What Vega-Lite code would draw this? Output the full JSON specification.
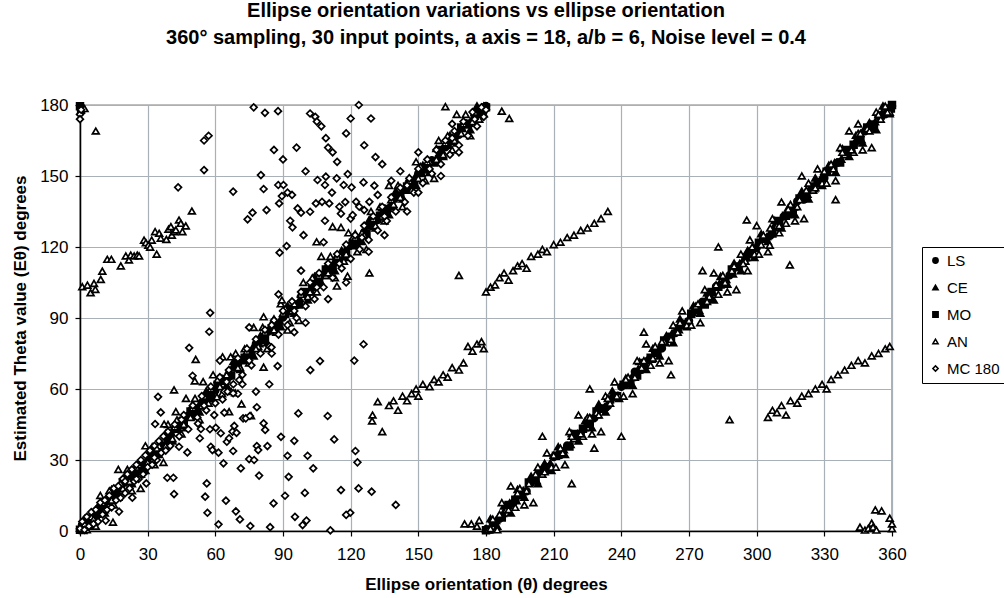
{
"$schema":"https://vega.github.io/schema/vega-lite/v6.json",
"autosize":"none",
"width":812,"height":426,
"padding":{"left":80,"top":105,"right":112,"bottom":67},
"background":"white",
"title":{"text":["Ellipse orientation variations vs ellipse orientation","360° sampling, 30 input points, a axis = 18, a/b = 6, Noise level = 0.4"],"font":"Liberation Sans","fontSize":20,"fontWeight":"bold","color":"black","lineHeight":27,"offset":48,"anchor":"middle","frame":"group"},
"data":{"values":[
{"s":"LS","x":0,"y":0.4},{"s":"LS","x":3,"y":2.2},{"s":"LS","x":6,"y":7.1},{"s":"LS","x":9,"y":8.7},{"s":"LS","x":12,"y":12.7},{"s":"LS","x":15,"y":13.8},{"s":"LS","x":18,"y":18.2},{"s":"LS","x":21,"y":21.9},{"s":"LS","x":24,"y":23.4},{"s":"LS","x":27,"y":28.3},{"s":"LS","x":30,"y":29.1},{"s":"LS","x":33,"y":33.1},{"s":"LS","x":36,"y":36.4},{"s":"LS","x":39,"y":38.2},{"s":"LS","x":42,"y":43.1},{"s":"LS","x":45,"y":44.7},{"s":"LS","x":48,"y":48.7},{"s":"LS","x":51,"y":49.8},{"s":"LS","x":54,"y":54.2},{"s":"LS","x":57,"y":57.9},{"s":"LS","x":60,"y":59.4},{"s":"LS","x":63,"y":64.3},{"s":"LS","x":66,"y":65.1},{"s":"LS","x":69,"y":69.1},{"s":"LS","x":72,"y":72.4},{"s":"LS","x":75,"y":74.2},{"s":"LS","x":78,"y":79.1},{"s":"LS","x":81,"y":80.7},{"s":"LS","x":84,"y":84.7},{"s":"LS","x":87,"y":85.8},{"s":"LS","x":90,"y":90.2},{"s":"LS","x":93,"y":93.9},{"s":"LS","x":96,"y":95.4},{"s":"LS","x":99,"y":100.3},{"s":"LS","x":102,"y":101.1},{"s":"LS","x":105,"y":105.1},{"s":"LS","x":108,"y":108.4},{"s":"LS","x":111,"y":110.2},{"s":"LS","x":114,"y":115.1},{"s":"LS","x":117,"y":116.7},{"s":"LS","x":120,"y":120.7},{"s":"LS","x":123,"y":121.8},{"s":"LS","x":126,"y":126.2},{"s":"LS","x":129,"y":129.9},{"s":"LS","x":132,"y":131.4},{"s":"LS","x":135,"y":136.3},{"s":"LS","x":138,"y":137.1},{"s":"LS","x":141,"y":141.1},{"s":"LS","x":144,"y":144.4},{"s":"LS","x":147,"y":146.2},{"s":"LS","x":150,"y":151.1},{"s":"LS","x":153,"y":152.7},{"s":"LS","x":156,"y":156.7},{"s":"LS","x":159,"y":157.8},{"s":"LS","x":162,"y":162.2},{"s":"LS","x":165,"y":165.9},{"s":"LS","x":168,"y":167.4},{"s":"LS","x":171,"y":172.3},{"s":"LS","x":174,"y":173.1},{"s":"LS","x":177,"y":177.1},{"s":"LS","x":180,"y":179.6},
{"s":"LS","x":180.5,"y":0.5},{"s":"LS","x":183,"y":3.4},{"s":"LS","x":186,"y":5.2},{"s":"LS","x":189,"y":10.1},{"s":"LS","x":192,"y":11.7},{"s":"LS","x":195,"y":15.7},{"s":"LS","x":198,"y":16.8},{"s":"LS","x":201,"y":21.2},{"s":"LS","x":204,"y":24.9},{"s":"LS","x":207,"y":26.4},{"s":"LS","x":210,"y":31.3},{"s":"LS","x":213,"y":32.1},{"s":"LS","x":216,"y":36.1},{"s":"LS","x":219,"y":39.4},{"s":"LS","x":222,"y":41.2},{"s":"LS","x":225,"y":46.1},{"s":"LS","x":228,"y":47.7},{"s":"LS","x":231,"y":51.7},{"s":"LS","x":234,"y":52.8},{"s":"LS","x":237,"y":57.2},{"s":"LS","x":240,"y":60.9},{"s":"LS","x":243,"y":62.4},{"s":"LS","x":246,"y":67.3},{"s":"LS","x":249,"y":68.1},{"s":"LS","x":252,"y":72.1},{"s":"LS","x":255,"y":75.4},{"s":"LS","x":258,"y":77.2},{"s":"LS","x":261,"y":82.1},{"s":"LS","x":264,"y":83.7},{"s":"LS","x":267,"y":87.7},{"s":"LS","x":270,"y":88.8},{"s":"LS","x":273,"y":93.2},{"s":"LS","x":276,"y":96.9},{"s":"LS","x":279,"y":98.4},{"s":"LS","x":282,"y":103.3},{"s":"LS","x":285,"y":104.1},{"s":"LS","x":288,"y":108.1},{"s":"LS","x":291,"y":111.4},{"s":"LS","x":294,"y":113.2},{"s":"LS","x":297,"y":118.1},{"s":"LS","x":300,"y":119.7},{"s":"LS","x":303,"y":123.7},{"s":"LS","x":306,"y":124.8},{"s":"LS","x":309,"y":129.2},{"s":"LS","x":312,"y":132.9},{"s":"LS","x":315,"y":134.4},{"s":"LS","x":318,"y":139.3},{"s":"LS","x":321,"y":140.1},{"s":"LS","x":324,"y":144.1},{"s":"LS","x":327,"y":147.4},{"s":"LS","x":330,"y":149.2},{"s":"LS","x":333,"y":154.1},{"s":"LS","x":336,"y":155.7},{"s":"LS","x":339,"y":159.7},{"s":"LS","x":342,"y":160.8},{"s":"LS","x":345,"y":165.2},{"s":"LS","x":348,"y":168.9},{"s":"LS","x":351,"y":170.4},{"s":"LS","x":354,"y":175.3},{"s":"LS","x":357,"y":176.1},{"s":"LS","x":360,"y":179.6},
{"s":"CE","x":1.5,"y":0.2},{"s":"CE","x":4.5,"y":5.5},{"s":"CE","x":7.5,"y":7.1},{"s":"CE","x":10.5,"y":12.3},{"s":"CE","x":13.5,"y":12.5},{"s":"CE","x":16.5,"y":16.8},{"s":"CE","x":19.5,"y":20.9},{"s":"CE","x":22.5,"y":20.7},{"s":"CE","x":25.5,"y":26.1},{"s":"CE","x":28.5,"y":28.3},{"s":"CE","x":31.5,"y":33.1},{"s":"CE","x":34.5,"y":33.8},{"s":"CE","x":37.5,"y":36},{"s":"CE","x":40.5,"y":41.5},{"s":"CE","x":43.5,"y":43.1},{"s":"CE","x":46.5,"y":48.3},{"s":"CE","x":49.5,"y":48.5},{"s":"CE","x":52.5,"y":52.8},{"s":"CE","x":55.5,"y":56.9},{"s":"CE","x":58.5,"y":56.7},{"s":"CE","x":61.5,"y":62.1},{"s":"CE","x":64.5,"y":64.3},{"s":"CE","x":67.5,"y":69.1},{"s":"CE","x":70.5,"y":69.8},{"s":"CE","x":73.5,"y":72},{"s":"CE","x":76.5,"y":77.5},{"s":"CE","x":79.5,"y":79.1},{"s":"CE","x":82.5,"y":84.3},{"s":"CE","x":85.5,"y":84.5},{"s":"CE","x":88.5,"y":88.8},{"s":"CE","x":91.5,"y":92.9},{"s":"CE","x":94.5,"y":92.7},{"s":"CE","x":97.5,"y":98.1},{"s":"CE","x":100.5,"y":100.3},{"s":"CE","x":103.5,"y":105.1},{"s":"CE","x":106.5,"y":105.8},{"s":"CE","x":109.5,"y":108},{"s":"CE","x":112.5,"y":113.5},{"s":"CE","x":115.5,"y":115.1},{"s":"CE","x":118.5,"y":120.3},{"s":"CE","x":121.5,"y":120.5},{"s":"CE","x":124.5,"y":124.8},{"s":"CE","x":127.5,"y":128.9},{"s":"CE","x":130.5,"y":128.7},{"s":"CE","x":133.5,"y":134.1},{"s":"CE","x":136.5,"y":136.3},{"s":"CE","x":139.5,"y":141.1},{"s":"CE","x":142.5,"y":141.8},{"s":"CE","x":145.5,"y":144},{"s":"CE","x":148.5,"y":149.5},{"s":"CE","x":151.5,"y":151.1},{"s":"CE","x":154.5,"y":156.3},{"s":"CE","x":157.5,"y":156.5},{"s":"CE","x":160.5,"y":160.8},{"s":"CE","x":163.5,"y":164.9},{"s":"CE","x":166.5,"y":164.7},{"s":"CE","x":169.5,"y":170.1},{"s":"CE","x":172.5,"y":172.3},{"s":"CE","x":175.5,"y":177.1},{"s":"CE","x":178.5,"y":177.8},
{"s":"CE","x":180,"y":1},{"s":"CE","x":181.5,"y":0.5},{"s":"CE","x":184.5,"y":4.5},{"s":"CE","x":187.5,"y":7.4},{"s":"CE","x":190.5,"y":11.9},{"s":"CE","x":193.5,"y":12.8},{"s":"CE","x":196.5,"y":17.2},{"s":"CE","x":199.5,"y":20.4},{"s":"CE","x":202.5,"y":21.3},{"s":"CE","x":205.5,"y":25.6},{"s":"CE","x":208.5,"y":28.7},{"s":"CE","x":211.5,"y":32.4},{"s":"CE","x":214.5,"y":34.3},{"s":"CE","x":217.5,"y":36.6},{"s":"CE","x":220.5,"y":41.1},{"s":"CE","x":223.5,"y":43.6},{"s":"CE","x":226.5,"y":47.6},{"s":"CE","x":229.5,"y":49.1},{"s":"CE","x":232.5,"y":52.3},{"s":"CE","x":235.5,"y":56.4},{"s":"CE","x":238.5,"y":57.3},{"s":"CE","x":241.5,"y":61.7},{"s":"CE","x":244.5,"y":64.9},{"s":"CE","x":247.5,"y":68.5},{"s":"CE","x":250.5,"y":70.2},{"s":"CE","x":253.5,"y":72.6},{"s":"CE","x":256.5,"y":77.1},{"s":"CE","x":259.5,"y":79.6},{"s":"CE","x":262.5,"y":83.6},{"s":"CE","x":265.5,"y":85.1},{"s":"CE","x":268.5,"y":88.3},{"s":"CE","x":271.5,"y":92.4},{"s":"CE","x":274.5,"y":93.3},{"s":"CE","x":277.5,"y":97.7},{"s":"CE","x":280.5,"y":100.9},{"s":"CE","x":283.5,"y":104.6},{"s":"CE","x":286.5,"y":106.3},{"s":"CE","x":289.5,"y":108.6},{"s":"CE","x":292.5,"y":113.1},{"s":"CE","x":295.5,"y":115.6},{"s":"CE","x":298.5,"y":119.6},{"s":"CE","x":301.5,"y":121.1},{"s":"CE","x":304.5,"y":124.3},{"s":"CE","x":307.5,"y":128.4},{"s":"CE","x":310.5,"y":129.3},{"s":"CE","x":313.5,"y":133.7},{"s":"CE","x":316.5,"y":136.9},{"s":"CE","x":319.5,"y":140.6},{"s":"CE","x":322.5,"y":142.3},{"s":"CE","x":325.5,"y":144.6},{"s":"CE","x":328.5,"y":149.1},{"s":"CE","x":331.5,"y":151.6},{"s":"CE","x":334.5,"y":155.6},{"s":"CE","x":337.5,"y":157.1},{"s":"CE","x":340.5,"y":160.3},{"s":"CE","x":343.5,"y":164.4},{"s":"CE","x":346.5,"y":165.3},{"s":"CE","x":349.5,"y":169.7},{"s":"CE","x":352.5,"y":172.9},{"s":"CE","x":355.5,"y":176.6},{"s":"CE","x":358.5,"y":178.3},
{"s":"CE","x":2,"y":5.2},{"s":"CE","x":5,"y":2},{"s":"CE","x":8,"y":10.6},{"s":"CE","x":11,"y":7.6},{"s":"CE","x":14,"y":17.6},{"s":"CE","x":17,"y":14.3},{"s":"CE","x":20,"y":23.2},{"s":"CE","x":23,"y":20},{"s":"CE","x":26,"y":28.6},{"s":"CE","x":29,"y":25.6},{"s":"CE","x":32,"y":35.6},{"s":"CE","x":35,"y":32.3},{"s":"CE","x":38,"y":41.2},{"s":"CE","x":41,"y":38},{"s":"CE","x":44,"y":46.6},{"s":"CE","x":47,"y":43.6},{"s":"CE","x":50,"y":53.6},{"s":"CE","x":53,"y":50.3},{"s":"CE","x":56,"y":59.2},{"s":"CE","x":59,"y":56},{"s":"CE","x":62,"y":64.6},{"s":"CE","x":65,"y":61.6},{"s":"CE","x":68,"y":71.6},{"s":"CE","x":71,"y":68.3},{"s":"CE","x":74,"y":77.2},{"s":"CE","x":77,"y":74},{"s":"CE","x":80,"y":82.6},{"s":"CE","x":83,"y":79.6},{"s":"CE","x":86,"y":89.6},{"s":"CE","x":89,"y":86.3},{"s":"CE","x":92,"y":95.2},{"s":"CE","x":95,"y":92},{"s":"CE","x":98,"y":100.6},{"s":"CE","x":101,"y":97.6},{"s":"CE","x":104,"y":107.6},{"s":"CE","x":107,"y":104.3},{"s":"CE","x":110,"y":113.2},{"s":"CE","x":113,"y":110},{"s":"CE","x":116,"y":118.6},{"s":"CE","x":119,"y":115.6},{"s":"CE","x":122,"y":125.6},{"s":"CE","x":125,"y":122.3},{"s":"CE","x":128,"y":131.2},{"s":"CE","x":131,"y":128},{"s":"CE","x":134,"y":136.6},{"s":"CE","x":137,"y":133.6},{"s":"CE","x":140,"y":143.6},{"s":"CE","x":143,"y":140.3},{"s":"CE","x":146,"y":149.2},{"s":"CE","x":149,"y":146},{"s":"CE","x":152,"y":154.6},{"s":"CE","x":155,"y":151.6},{"s":"CE","x":158,"y":161.6},{"s":"CE","x":161,"y":158.3},{"s":"CE","x":164,"y":167.2},{"s":"CE","x":167,"y":164},{"s":"CE","x":170,"y":172.6},{"s":"CE","x":173,"y":169.6},{"s":"CE","x":176,"y":179.6},{"s":"CE","x":179,"y":176.3},
{"s":"CE","x":182,"y":5.2},{"s":"CE","x":185,"y":2},{"s":"CE","x":188,"y":10.6},{"s":"CE","x":191,"y":7.6},{"s":"CE","x":194,"y":17.6},{"s":"CE","x":197,"y":14.3},{"s":"CE","x":200,"y":23.2},{"s":"CE","x":203,"y":20},{"s":"CE","x":206,"y":28.6},{"s":"CE","x":209,"y":25.6},{"s":"CE","x":212,"y":35.6},{"s":"CE","x":215,"y":32.3},{"s":"CE","x":218,"y":41.2},{"s":"CE","x":221,"y":38},{"s":"CE","x":224,"y":46.6},{"s":"CE","x":227,"y":43.6},{"s":"CE","x":230,"y":53.6},{"s":"CE","x":233,"y":50.3},{"s":"CE","x":236,"y":59.2},{"s":"CE","x":239,"y":56},{"s":"CE","x":242,"y":64.6},{"s":"CE","x":245,"y":61.6},{"s":"CE","x":248,"y":71.6},{"s":"CE","x":251,"y":68.3},{"s":"CE","x":254,"y":77.2},{"s":"CE","x":257,"y":74},{"s":"CE","x":260,"y":82.6},{"s":"CE","x":263,"y":79.6},{"s":"CE","x":266,"y":89.6},{"s":"CE","x":269,"y":86.3},{"s":"CE","x":272,"y":95.2},{"s":"CE","x":275,"y":92},{"s":"CE","x":278,"y":100.6},{"s":"CE","x":281,"y":97.6},{"s":"CE","x":284,"y":107.6},{"s":"CE","x":287,"y":104.3},{"s":"CE","x":290,"y":113.2},{"s":"CE","x":293,"y":110},{"s":"CE","x":296,"y":118.6},{"s":"CE","x":299,"y":115.6},{"s":"CE","x":302,"y":125.6},{"s":"CE","x":305,"y":122.3},{"s":"CE","x":308,"y":131.2},{"s":"CE","x":311,"y":128},{"s":"CE","x":314,"y":136.6},{"s":"CE","x":317,"y":133.6},{"s":"CE","x":320,"y":143.6},{"s":"CE","x":323,"y":140.3},{"s":"CE","x":326,"y":149.2},{"s":"CE","x":329,"y":146},{"s":"CE","x":332,"y":154.6},{"s":"CE","x":335,"y":151.6},{"s":"CE","x":338,"y":161.6},{"s":"CE","x":341,"y":158.3},{"s":"CE","x":344,"y":167.2},{"s":"CE","x":347,"y":164},{"s":"CE","x":350,"y":172.6},{"s":"CE","x":353,"y":169.6},{"s":"CE","x":356,"y":179.6},{"s":"CE","x":359,"y":176.3},
{"s":"MO","x":0,"y":179.5},{"s":"MO","x":0.5,"y":178},{"s":"MO","x":0,"y":0.5},{"s":"MO","x":1,"y":1.8},{"s":"MO","x":4,"y":3.5},{"s":"MO","x":7,"y":5.7},{"s":"MO","x":10,"y":11},{"s":"MO","x":13,"y":13.2},{"s":"MO","x":16,"y":15.2},{"s":"MO","x":19,"y":20.5},{"s":"MO","x":22,"y":21.8},{"s":"MO","x":25,"y":25.6},{"s":"MO","x":28,"y":26.9},{"s":"MO","x":31,"y":31.8},{"s":"MO","x":34,"y":33.5},{"s":"MO","x":37,"y":35.7},{"s":"MO","x":40,"y":41},{"s":"MO","x":43,"y":43.2},{"s":"MO","x":46,"y":45.2},{"s":"MO","x":49,"y":50.5},{"s":"MO","x":52,"y":51.8},{"s":"MO","x":55,"y":55.6},{"s":"MO","x":58,"y":56.9},{"s":"MO","x":61,"y":61.8},{"s":"MO","x":64,"y":63.5},{"s":"MO","x":67,"y":65.7},{"s":"MO","x":70,"y":71},{"s":"MO","x":73,"y":73.2},{"s":"MO","x":76,"y":75.2},{"s":"MO","x":79,"y":80.5},{"s":"MO","x":82,"y":81.8},{"s":"MO","x":85,"y":85.6},{"s":"MO","x":88,"y":86.9},{"s":"MO","x":91,"y":91.8},{"s":"MO","x":94,"y":93.5},{"s":"MO","x":97,"y":95.7},{"s":"MO","x":100,"y":101},{"s":"MO","x":103,"y":103.2},{"s":"MO","x":106,"y":105.2},{"s":"MO","x":109,"y":110.5},{"s":"MO","x":112,"y":111.8},{"s":"MO","x":115,"y":115.6},{"s":"MO","x":118,"y":116.9},{"s":"MO","x":121,"y":121.8},{"s":"MO","x":124,"y":123.5},{"s":"MO","x":127,"y":125.7},{"s":"MO","x":130,"y":131},{"s":"MO","x":133,"y":133.2},{"s":"MO","x":136,"y":135.2},{"s":"MO","x":139,"y":140.5},{"s":"MO","x":142,"y":141.8},{"s":"MO","x":145,"y":145.6},{"s":"MO","x":148,"y":146.9},{"s":"MO","x":151,"y":151.8},{"s":"MO","x":154,"y":153.5},{"s":"MO","x":157,"y":155.7},{"s":"MO","x":160,"y":161},{"s":"MO","x":163,"y":163.2},{"s":"MO","x":166,"y":165.2},{"s":"MO","x":169,"y":170.5},{"s":"MO","x":172,"y":171.8},{"s":"MO","x":175,"y":175.6},{"s":"MO","x":178,"y":176.9},{"s":"MO","x":180,"y":179},{"s":"MO","x":180,"y":0.3},
{"s":"MO","x":181,"y":0.6},{"s":"MO","x":184,"y":3.5},{"s":"MO","x":187,"y":5.7},{"s":"MO","x":190,"y":11},{"s":"MO","x":193,"y":13.2},{"s":"MO","x":196,"y":15.2},{"s":"MO","x":199,"y":20.5},{"s":"MO","x":202,"y":21.8},{"s":"MO","x":205,"y":25.6},{"s":"MO","x":208,"y":26.9},{"s":"MO","x":211,"y":31.8},{"s":"MO","x":214,"y":33.5},{"s":"MO","x":217,"y":35.7},{"s":"MO","x":220,"y":41},{"s":"MO","x":223,"y":43.2},{"s":"MO","x":226,"y":45.2},{"s":"MO","x":229,"y":50.5},{"s":"MO","x":232,"y":51.8},{"s":"MO","x":235,"y":55.6},{"s":"MO","x":238,"y":56.9},{"s":"MO","x":241,"y":61.8},{"s":"MO","x":244,"y":63.5},{"s":"MO","x":247,"y":65.7},{"s":"MO","x":250,"y":71},{"s":"MO","x":253,"y":73.2},{"s":"MO","x":256,"y":75.2},{"s":"MO","x":259,"y":80.5},{"s":"MO","x":262,"y":81.8},{"s":"MO","x":265,"y":85.6},{"s":"MO","x":268,"y":86.9},{"s":"MO","x":271,"y":91.8},{"s":"MO","x":274,"y":93.5},{"s":"MO","x":277,"y":95.7},{"s":"MO","x":280,"y":101},{"s":"MO","x":283,"y":103.2},{"s":"MO","x":286,"y":105.2},{"s":"MO","x":289,"y":110.5},{"s":"MO","x":292,"y":111.8},{"s":"MO","x":295,"y":115.6},{"s":"MO","x":298,"y":116.9},{"s":"MO","x":301,"y":121.8},{"s":"MO","x":304,"y":123.5},{"s":"MO","x":307,"y":125.7},{"s":"MO","x":310,"y":131},{"s":"MO","x":313,"y":133.2},{"s":"MO","x":316,"y":135.2},{"s":"MO","x":319,"y":140.5},{"s":"MO","x":322,"y":141.8},{"s":"MO","x":325,"y":145.6},{"s":"MO","x":328,"y":146.9},{"s":"MO","x":331,"y":151.8},{"s":"MO","x":334,"y":153.5},{"s":"MO","x":337,"y":155.7},{"s":"MO","x":340,"y":161},{"s":"MO","x":343,"y":163.2},{"s":"MO","x":346,"y":165.2},{"s":"MO","x":349,"y":170.5},{"s":"MO","x":352,"y":171.8},{"s":"MO","x":355,"y":175.6},{"s":"MO","x":358,"y":176.9},{"s":"MO","x":359.5,"y":178.5},{"s":"MO","x":360,"y":180},
{"s":"AN","x":1,"y":4},{"s":"AN","x":3,"y":0.5},{"s":"AN","x":5,"y":6},{"s":"AN","x":7,"y":2},{"s":"AN","x":9,"y":15},{"s":"AN","x":11,"y":9},{"s":"AN","x":13,"y":17},{"s":"AN","x":15,"y":11},{"s":"AN","x":17,"y":26},{"s":"AN","x":19,"y":18},{"s":"AN","x":21,"y":26},{"s":"AN","x":23,"y":17},{"s":"AN","x":25,"y":27},{"s":"AN","x":27,"y":24},{"s":"AN","x":29,"y":36},{"s":"AN","x":31,"y":34},{"s":"AN","x":33,"y":28},{"s":"AN","x":35,"y":36},{"s":"AN","x":37,"y":29},{"s":"AN","x":39,"y":45},{"s":"AN","x":41,"y":39},{"s":"AN","x":43,"y":47},{"s":"AN","x":45,"y":41},{"s":"AN","x":47,"y":56},{"s":"AN","x":49,"y":48},{"s":"AN","x":51,"y":56},{"s":"AN","x":53,"y":47},{"s":"AN","x":55,"y":57},{"s":"AN","x":57,"y":54},{"s":"AN","x":59,"y":66},{"s":"AN","x":61,"y":64},{"s":"AN","x":63,"y":58},{"s":"AN","x":65,"y":66},{"s":"AN","x":67,"y":59},{"s":"AN","x":69,"y":75},{"s":"AN","x":71,"y":69},{"s":"AN","x":73,"y":77},{"s":"AN","x":75,"y":71},{"s":"AN","x":77,"y":86},{"s":"AN","x":79,"y":78},{"s":"AN","x":81,"y":86},{"s":"AN","x":83,"y":77},{"s":"AN","x":85,"y":87},{"s":"AN","x":87,"y":84},{"s":"AN","x":89,"y":96},{"s":"AN","x":91,"y":94},{"s":"AN","x":93,"y":88},{"s":"AN","x":95,"y":96},{"s":"AN","x":97,"y":89},{"s":"AN","x":99,"y":105},{"s":"AN","x":101,"y":99},{"s":"AN","x":103,"y":107},{"s":"AN","x":105,"y":101},{"s":"AN","x":107,"y":116},{"s":"AN","x":109,"y":108},{"s":"AN","x":111,"y":116},{"s":"AN","x":113,"y":107},{"s":"AN","x":115,"y":117},{"s":"AN","x":117,"y":114},{"s":"AN","x":119,"y":126},{"s":"AN","x":121,"y":124},{"s":"AN","x":123,"y":118},{"s":"AN","x":125,"y":126},{"s":"AN","x":127,"y":119},{"s":"AN","x":129,"y":135},{"s":"AN","x":131,"y":129},{"s":"AN","x":133,"y":137},{"s":"AN","x":135,"y":131},{"s":"AN","x":137,"y":146},{"s":"AN","x":139,"y":138},{"s":"AN","x":141,"y":146},{"s":"AN","x":143,"y":137},{"s":"AN","x":145,"y":147},{"s":"AN","x":147,"y":144},{"s":"AN","x":149,"y":156},{"s":"AN","x":151,"y":154},{"s":"AN","x":153,"y":148},{"s":"AN","x":155,"y":156},{"s":"AN","x":157,"y":149},{"s":"AN","x":159,"y":165},{"s":"AN","x":161,"y":159},{"s":"AN","x":163,"y":167},{"s":"AN","x":165,"y":161},{"s":"AN","x":167,"y":176},{"s":"AN","x":169,"y":168},{"s":"AN","x":171,"y":176},{"s":"AN","x":173,"y":167},{"s":"AN","x":175,"y":177},{"s":"AN","x":177,"y":174},{"s":"AN","x":179,"y":179.5},
{"s":"AN","x":2,"y":3},{"s":"AN","x":6,"y":5},{"s":"AN","x":10,"y":12},{"s":"AN","x":14,"y":13},{"s":"AN","x":18,"y":20},{"s":"AN","x":22,"y":21},{"s":"AN","x":26,"y":28},{"s":"AN","x":30,"y":29},{"s":"AN","x":34,"y":35},{"s":"AN","x":38,"y":36},{"s":"AN","x":42,"y":44},{"s":"AN","x":46,"y":45},{"s":"AN","x":50,"y":52},{"s":"AN","x":54,"y":53},{"s":"AN","x":58,"y":60},{"s":"AN","x":62,"y":61},{"s":"AN","x":66,"y":68},{"s":"AN","x":70,"y":69},{"s":"AN","x":74,"y":76},{"s":"AN","x":78,"y":77},{"s":"AN","x":82,"y":84},{"s":"AN","x":86,"y":85},{"s":"AN","x":90,"y":92},{"s":"AN","x":94,"y":93},{"s":"AN","x":98,"y":100},{"s":"AN","x":102,"y":101},{"s":"AN","x":106,"y":108},{"s":"AN","x":110,"y":109},{"s":"AN","x":114,"y":116},{"s":"AN","x":118,"y":117},{"s":"AN","x":122,"y":124},{"s":"AN","x":126,"y":125},{"s":"AN","x":130,"y":132},{"s":"AN","x":134,"y":133},{"s":"AN","x":138,"y":140},{"s":"AN","x":142,"y":141},{"s":"AN","x":146,"y":148},{"s":"AN","x":150,"y":149},{"s":"AN","x":154,"y":156},{"s":"AN","x":158,"y":157},{"s":"AN","x":162,"y":164},{"s":"AN","x":166,"y":165},{"s":"AN","x":170,"y":172},{"s":"AN","x":174,"y":173},{"s":"AN","x":178,"y":179},
{"s":"AN","x":181,"y":0.5},{"s":"AN","x":183,"y":5},{"s":"AN","x":185,"y":0.5},{"s":"AN","x":187,"y":12},{"s":"AN","x":189,"y":9},{"s":"AN","x":191,"y":19},{"s":"AN","x":193,"y":10},{"s":"AN","x":195,"y":18},{"s":"AN","x":197,"y":11},{"s":"AN","x":199,"y":20},{"s":"AN","x":201,"y":12},{"s":"AN","x":203,"y":27},{"s":"AN","x":205,"y":24},{"s":"AN","x":207,"y":33},{"s":"AN","x":209,"y":27},{"s":"AN","x":211,"y":27},{"s":"AN","x":213,"y":35},{"s":"AN","x":215,"y":28},{"s":"AN","x":217,"y":42},{"s":"AN","x":219,"y":39},{"s":"AN","x":221,"y":49},{"s":"AN","x":223,"y":40},{"s":"AN","x":225,"y":48},{"s":"AN","x":227,"y":41},{"s":"AN","x":229,"y":50},{"s":"AN","x":231,"y":42},{"s":"AN","x":233,"y":57},{"s":"AN","x":235,"y":54},{"s":"AN","x":237,"y":63},{"s":"AN","x":239,"y":57},{"s":"AN","x":241,"y":57},{"s":"AN","x":243,"y":65},{"s":"AN","x":245,"y":58},{"s":"AN","x":247,"y":72},{"s":"AN","x":249,"y":69},{"s":"AN","x":251,"y":79},{"s":"AN","x":253,"y":70},{"s":"AN","x":255,"y":78},{"s":"AN","x":257,"y":71},{"s":"AN","x":259,"y":80},{"s":"AN","x":261,"y":72},{"s":"AN","x":263,"y":87},{"s":"AN","x":265,"y":84},{"s":"AN","x":267,"y":93},{"s":"AN","x":269,"y":87},{"s":"AN","x":271,"y":87},{"s":"AN","x":273,"y":95},{"s":"AN","x":275,"y":88},{"s":"AN","x":277,"y":102},{"s":"AN","x":279,"y":99},{"s":"AN","x":281,"y":109},{"s":"AN","x":283,"y":100},{"s":"AN","x":285,"y":108},{"s":"AN","x":287,"y":101},{"s":"AN","x":289,"y":110},{"s":"AN","x":291,"y":102},{"s":"AN","x":293,"y":117},{"s":"AN","x":295,"y":114},{"s":"AN","x":297,"y":123},{"s":"AN","x":299,"y":117},{"s":"AN","x":301,"y":117},{"s":"AN","x":303,"y":125},{"s":"AN","x":305,"y":118},{"s":"AN","x":307,"y":132},{"s":"AN","x":309,"y":129},{"s":"AN","x":311,"y":139},{"s":"AN","x":313,"y":130},{"s":"AN","x":315,"y":138},{"s":"AN","x":317,"y":131},{"s":"AN","x":319,"y":140},{"s":"AN","x":321,"y":132},{"s":"AN","x":323,"y":147},{"s":"AN","x":325,"y":144},{"s":"AN","x":327,"y":153},{"s":"AN","x":329,"y":147},{"s":"AN","x":331,"y":147},{"s":"AN","x":333,"y":155},{"s":"AN","x":335,"y":148},{"s":"AN","x":337,"y":162},{"s":"AN","x":339,"y":159},{"s":"AN","x":341,"y":169},{"s":"AN","x":343,"y":160},{"s":"AN","x":345,"y":168},{"s":"AN","x":347,"y":161},{"s":"AN","x":349,"y":170},{"s":"AN","x":351,"y":162},{"s":"AN","x":353,"y":177},{"s":"AN","x":355,"y":174},{"s":"AN","x":357,"y":179.5},{"s":"AN","x":359,"y":177},
{"s":"AN","x":182,"y":1},{"s":"AN","x":186,"y":7},{"s":"AN","x":190,"y":9},{"s":"AN","x":194,"y":16},{"s":"AN","x":198,"y":17},{"s":"AN","x":202,"y":24},{"s":"AN","x":206,"y":25},{"s":"AN","x":210,"y":32},{"s":"AN","x":214,"y":33},{"s":"AN","x":218,"y":40},{"s":"AN","x":222,"y":41},{"s":"AN","x":226,"y":48},{"s":"AN","x":230,"y":49},{"s":"AN","x":234,"y":56},{"s":"AN","x":238,"y":57},{"s":"AN","x":242,"y":64},{"s":"AN","x":246,"y":65},{"s":"AN","x":250,"y":72},{"s":"AN","x":254,"y":73},{"s":"AN","x":258,"y":80},{"s":"AN","x":262,"y":81},{"s":"AN","x":266,"y":88},{"s":"AN","x":270,"y":89},{"s":"AN","x":274,"y":96},{"s":"AN","x":278,"y":97},{"s":"AN","x":282,"y":104},{"s":"AN","x":286,"y":105},{"s":"AN","x":290,"y":112},{"s":"AN","x":294,"y":113},{"s":"AN","x":298,"y":120},{"s":"AN","x":302,"y":121},{"s":"AN","x":306,"y":128},{"s":"AN","x":310,"y":129},{"s":"AN","x":314,"y":136},{"s":"AN","x":318,"y":137},{"s":"AN","x":322,"y":144},{"s":"AN","x":326,"y":145},{"s":"AN","x":330,"y":152},{"s":"AN","x":334,"y":153},{"s":"AN","x":338,"y":160},{"s":"AN","x":342,"y":161},{"s":"AN","x":346,"y":168},{"s":"AN","x":350,"y":169},{"s":"AN","x":354,"y":176},{"s":"AN","x":358,"y":177},
{"s":"AN","x":41.7,"y":59.6},{"s":"AN","x":42.5,"y":50.4},{"s":"AN","x":26.9,"y":18},{"s":"AN","x":14.6,"y":3.7},{"s":"AN","x":51.3,"y":72.5},{"s":"AN","x":50.9,"y":63.4},{"s":"AN","x":54.6,"y":63.1},{"s":"AN","x":66.1,"y":50.4},{"s":"AN","x":71.6,"y":53.7},{"s":"AN","x":68.8,"y":58.4},{"s":"AN","x":81.4,"y":69.2},{"s":"AN","x":63.2,"y":73.6},{"s":"AN","x":66.8,"y":73.6},{"s":"AN","x":75.8,"y":48.7},{"s":"AN","x":37.3,"y":45.2},{"s":"AN","x":60.7,"y":56.7},{"s":"AN","x":128.3,"y":109},{"s":"AN","x":113.9,"y":103.5},{"s":"AN","x":104.9,"y":122.2},{"s":"AN","x":112,"y":128.6},{"s":"AN","x":115.7,"y":128.3},{"s":"AN","x":92,"y":84.9},{"s":"AN","x":81.4,"y":90.5},{"s":"AN","x":89.5,"y":97.6},{"s":"AN","x":118.6,"y":107.7},{"s":"AN","x":7,"y":169},{"s":"AN","x":2,"y":178.5},{"s":"AN","x":162,"y":179.3},{"s":"AN","x":187,"y":177.4},{"s":"AN","x":190.3,"y":174.3},{"s":"AN","x":168,"y":108},{"s":"AN","x":170.5,"y":3},{"s":"AN","x":173.5,"y":3},{"s":"AN","x":176,"y":2},{"s":"AN","x":177,"y":4.5},{"s":"AN","x":288,"y":47},{"s":"AN","x":295.6,"y":131.4},{"s":"AN","x":300,"y":129},{"s":"AN","x":305.8,"y":120.8},{"s":"AN","x":314.7,"y":112.4},{"s":"AN","x":310,"y":126},{"s":"AN","x":296,"y":110},{"s":"AN","x":226,"y":60},{"s":"AN","x":240,"y":40},{"s":"AN","x":262,"y":66},{"s":"AN","x":276,"y":110},{"s":"AN","x":283,"y":120},{"s":"AN","x":320,"y":150},{"s":"AN","x":335,"y":140},{"s":"AN","x":345,"y":172},{"s":"AN","x":228,"y":35},{"s":"AN","x":250,"y":84},{"s":"AN","x":205,"y":40},{"s":"AN","x":218,"y":20},
{"s":"AN","x":1,"y":103.2},{"s":"AN","x":3.3,"y":103.9},{"s":"AN","x":4.7,"y":100.7},{"s":"AN","x":6.2,"y":104.6},{"s":"AN","x":6.8,"y":102.1},{"s":"AN","x":9.2,"y":106.3},{"s":"AN","x":9.9,"y":109.8},{"s":"AN","x":12.1,"y":114.8},{"s":"AN","x":13.9,"y":114.8},{"s":"AN","x":18.1,"y":112},{"s":"AN","x":20.3,"y":116.2},{"s":"AN","x":21.7,"y":114.5},{"s":"AN","x":22.5,"y":116.6},{"s":"AN","x":24,"y":116.2},{"s":"AN","x":25.4,"y":116.6},{"s":"AN","x":26.2,"y":116.2},{"s":"AN","x":28.4,"y":122.9},{"s":"AN","x":29.2,"y":121.8},{"s":"AN","x":30.3,"y":120.8},{"s":"AN","x":31.1,"y":119.9},{"s":"AN","x":31.8,"y":122.9},{"s":"AN","x":33.3,"y":126.5},{"s":"AN","x":34,"y":117},{"s":"AN","x":35.1,"y":125.8},{"s":"AN","x":35.8,"y":123.7},{"s":"AN","x":38.3,"y":123.2},{"s":"AN","x":39.2,"y":127.5},{"s":"AN","x":40.3,"y":128.6},{"s":"AN","x":40.7,"y":125},{"s":"AN","x":41.7,"y":126.5},{"s":"AN","x":42.5,"y":127.2},{"s":"AN","x":43.9,"y":131.4},{"s":"AN","x":44.7,"y":130},{"s":"AN","x":45.4,"y":126.5},{"s":"AN","x":46.9,"y":128.9},{"s":"AN","x":49.6,"y":135.2},
{"s":"AN","x":129.5,"y":46.5},{"s":"AN","x":129.7,"y":49},{"s":"AN","x":132,"y":54.6},{"s":"AN","x":134,"y":42},{"s":"AN","x":137,"y":53},{"s":"AN","x":139,"y":55},{"s":"AN","x":141,"y":51},{"s":"AN","x":143,"y":57},{"s":"AN","x":145,"y":55},{"s":"AN","x":147,"y":58},{"s":"AN","x":149,"y":60},{"s":"AN","x":150,"y":57},{"s":"AN","x":152,"y":62},{"s":"AN","x":155,"y":61},{"s":"AN","x":157,"y":64},{"s":"AN","x":159,"y":63},{"s":"AN","x":161,"y":66},{"s":"AN","x":163,"y":65},{"s":"AN","x":165,"y":69},{"s":"AN","x":168,"y":68},{"s":"AN","x":170,"y":71},{"s":"AN","x":172,"y":78},{"s":"AN","x":174,"y":76},{"s":"AN","x":176,"y":79},{"s":"AN","x":178,"y":80},{"s":"AN","x":179,"y":77},
{"s":"AN","x":180,"y":101},{"s":"AN","x":182,"y":103},{"s":"AN","x":184,"y":104},{"s":"AN","x":186,"y":107},{"s":"AN","x":188,"y":109},{"s":"AN","x":190,"y":106},{"s":"AN","x":192,"y":110},{"s":"AN","x":194,"y":112},{"s":"AN","x":196,"y":113},{"s":"AN","x":198,"y":111},{"s":"AN","x":200,"y":116},{"s":"AN","x":203,"y":117},{"s":"AN","x":205,"y":119},{"s":"AN","x":207,"y":118},{"s":"AN","x":210,"y":121},{"s":"AN","x":213,"y":122},{"s":"AN","x":216,"y":124},{"s":"AN","x":219,"y":125},{"s":"AN","x":222,"y":127},{"s":"AN","x":225,"y":128},{"s":"AN","x":228,"y":130},{"s":"AN","x":231,"y":132},{"s":"AN","x":234,"y":135},
{"s":"AN","x":305,"y":48},{"s":"AN","x":307,"y":51},{"s":"AN","x":309,"y":50},{"s":"AN","x":311,"y":53},{"s":"AN","x":313,"y":49},{"s":"AN","x":315,"y":55},{"s":"AN","x":318,"y":54},{"s":"AN","x":320,"y":57},{"s":"AN","x":323,"y":58},{"s":"AN","x":326,"y":60},{"s":"AN","x":329,"y":62},{"s":"AN","x":331,"y":60},{"s":"AN","x":333,"y":64},{"s":"AN","x":336,"y":66},{"s":"AN","x":339,"y":68},{"s":"AN","x":342,"y":70},{"s":"AN","x":345,"y":72},{"s":"AN","x":348,"y":71},{"s":"AN","x":351,"y":74},{"s":"AN","x":354,"y":75},{"s":"AN","x":357,"y":77},{"s":"AN","x":359,"y":78},
{"s":"AN","x":345.8,"y":1.6},{"s":"AN","x":348,"y":0.4},{"s":"AN","x":349.5,"y":1.1},{"s":"AN","x":351,"y":3.3},{"s":"AN","x":351.6,"y":1.6},{"s":"AN","x":353.1,"y":0.4},{"s":"AN","x":352.6,"y":8.9},{"s":"AN","x":355.4,"y":8.5},{"s":"AN","x":359,"y":5.4},{"s":"AN","x":360,"y":1},{"s":"AN","x":360,"y":3},
{"s":"MC 180","x":0,"y":1},{"s":"MC 180","x":1,"y":4},{"s":"MC 180","x":2,"y":0.5},{"s":"MC 180","x":3,"y":6},{"s":"MC 180","x":4,"y":2},{"s":"MC 180","x":5,"y":8},{"s":"MC 180","x":6,"y":3},{"s":"MC 180","x":7,"y":9},{"s":"MC 180","x":8,"y":4},{"s":"MC 180","x":9,"y":12},{"s":"MC 180","x":10,"y":7},{"s":"MC 180","x":11,"y":13},{"s":"MC 180","x":12,"y":9},{"s":"MC 180","x":13,"y":15},{"s":"MC 180","x":14,"y":10},{"s":"MC 180","x":15,"y":18},{"s":"MC 180","x":16,"y":13},{"s":"MC 180","x":17,"y":19},{"s":"MC 180","x":18,"y":14},{"s":"MC 180","x":19,"y":22},{"s":"MC 180","x":20,"y":16},{"s":"MC 180","x":21,"y":24},{"s":"MC 180","x":22,"y":18},{"s":"MC 180","x":23,"y":26},{"s":"MC 180","x":24,"y":21},{"s":"MC 180","x":25,"y":28},{"s":"MC 180","x":26,"y":22},{"s":"MC 180","x":27,"y":30},{"s":"MC 180","x":28,"y":24},{"s":"MC 180","x":29,"y":32},{"s":"MC 180","x":30,"y":27},{"s":"MC 180","x":31,"y":34},{"s":"MC 180","x":32,"y":28},{"s":"MC 180","x":33,"y":36},{"s":"MC 180","x":34,"y":30},{"s":"MC 180","x":35,"y":38},{"s":"MC 180","x":36,"y":33},{"s":"MC 180","x":37,"y":40},{"s":"MC 180","x":38,"y":34},{"s":"MC 180","x":39,"y":42},{"s":"MC 180","x":40,"y":36},{"s":"MC 180","x":42,"y":45},{"s":"MC 180","x":44,"y":40},{"s":"MC 180","x":46,"y":49},{"s":"MC 180","x":48,"y":43},{"s":"MC 180","x":50,"y":53},{"s":"MC 180","x":52,"y":48},{"s":"MC 180","x":54,"y":57},{"s":"MC 180","x":56,"y":51},{"s":"MC 180","x":58,"y":61},{"s":"MC 180","x":60,"y":54},{"s":"MC 180","x":62,"y":65},{"s":"MC 180","x":64,"y":59},{"s":"MC 180","x":66,"y":68},{"s":"MC 180","x":68,"y":62},{"s":"MC 180","x":70,"y":73},{"s":"MC 180","x":72,"y":66},{"s":"MC 180","x":74,"y":77},{"s":"MC 180","x":76,"y":70},{"s":"MC 180","x":78,"y":81},{"s":"MC 180","x":80,"y":75},{"s":"MC 180","x":82,"y":85},{"s":"MC 180","x":84,"y":78},{"s":"MC 180","x":86,"y":89},{"s":"MC 180","x":88,"y":83},{"s":"MC 180","x":90,"y":93},{"s":"MC 180","x":92,"y":87},{"s":"MC 180","x":94,"y":97},{"s":"MC 180","x":96,"y":90},{"s":"MC 180","x":98,"y":101},{"s":"MC 180","x":100,"y":95},{"s":"MC 180","x":102,"y":105},{"s":"MC 180","x":104,"y":98},{"s":"MC 180","x":106,"y":109},{"s":"MC 180","x":108,"y":103},{"s":"MC 180","x":110,"y":113},{"s":"MC 180","x":112,"y":107},{"s":"MC 180","x":114,"y":117},{"s":"MC 180","x":116,"y":111},{"s":"MC 180","x":118,"y":121},{"s":"MC 180","x":120,"y":115},{"s":"MC 180","x":122,"y":125},{"s":"MC 180","x":124,"y":119},{"s":"MC 180","x":126,"y":129},{"s":"MC 180","x":128,"y":123},{"s":"MC 180","x":130,"y":133},{"s":"MC 180","x":132,"y":127},{"s":"MC 180","x":134,"y":137},{"s":"MC 180","x":136,"y":131},{"s":"MC 180","x":138,"y":141},{"s":"MC 180","x":140,"y":135},{"s":"MC 180","x":142,"y":145},{"s":"MC 180","x":144,"y":139},{"s":"MC 180","x":146,"y":149},{"s":"MC 180","x":148,"y":143},{"s":"MC 180","x":150,"y":153},{"s":"MC 180","x":152,"y":147},{"s":"MC 180","x":154,"y":157},{"s":"MC 180","x":156,"y":151},{"s":"MC 180","x":158,"y":161},{"s":"MC 180","x":160,"y":155},{"s":"MC 180","x":162,"y":165},{"s":"MC 180","x":164,"y":159},{"s":"MC 180","x":166,"y":169},{"s":"MC 180","x":168,"y":163},{"s":"MC 180","x":170,"y":173},{"s":"MC 180","x":172,"y":167},{"s":"MC 180","x":174,"y":177},{"s":"MC 180","x":176,"y":171},{"s":"MC 180","x":178,"y":179},{"s":"MC 180","x":179,"y":175},{"s":"MC 180","x":180,"y":178},
{"s":"MC 180","x":20,"y":21},{"s":"MC 180","x":25,"y":22},{"s":"MC 180","x":33,"y":31},{"s":"MC 180","x":45,"y":47},{"s":"MC 180","x":55,"y":53},{"s":"MC 180","x":65,"y":63},{"s":"MC 180","x":75,"y":72},{"s":"MC 180","x":85,"y":87},{"s":"MC 180","x":95,"y":93},{"s":"MC 180","x":105,"y":103},{"s":"MC 180","x":115,"y":113},{"s":"MC 180","x":125,"y":124},{"s":"MC 180","x":135,"y":133},{"s":"MC 180","x":145,"y":146},{"s":"MC 180","x":155,"y":153},{"s":"MC 180","x":165,"y":166},{"s":"MC 180","x":175,"y":174},{"s":"MC 180","x":0,"y":176},{"s":"MC 180","x":0,"y":174},{"s":"MC 180","x":0.5,"y":178},
{"s":"MC 180","x":64,"y":50},{"s":"MC 180","x":70,"y":58},{"s":"MC 180","x":85,"y":75},{"s":"MC 180","x":95,"y":84},{"s":"MC 180","x":100,"y":88},{"s":"MC 180","x":110,"y":98},{"s":"MC 180","x":118,"y":105},{"s":"MC 180","x":128,"y":118},{"s":"MC 180","x":135,"y":125},{"s":"MC 180","x":145,"y":135},{"s":"MC 180","x":150,"y":143},{"s":"MC 180","x":160,"y":150},{"s":"MC 180","x":168,"y":160},{"s":"MC 180","x":62,"y":72},{"s":"MC 180","x":75,"y":86},{"s":"MC 180","x":88,"y":100},{"s":"MC 180","x":98,"y":110},{"s":"MC 180","x":108,"y":122},{"s":"MC 180","x":120,"y":132},{"s":"MC 180","x":132,"y":142},{"s":"MC 180","x":150,"y":160},{"s":"MC 180","x":165,"y":172},
{"s":"MC 180","x":43.5,"y":145.2},{"s":"MC 180","x":67.9,"y":143.4},{"s":"MC 180","x":80.2,"y":150.4},{"s":"MC 180","x":81.4,"y":144.5},{"s":"MC 180","x":87.9,"y":146.2},{"s":"MC 180","x":90.2,"y":146.2},{"s":"MC 180","x":89.5,"y":141.5},{"s":"MC 180","x":94,"y":142},{"s":"MC 180","x":88.3,"y":138.4},{"s":"MC 180","x":92,"y":143},{"s":"MC 180","x":76.5,"y":134.5},{"s":"MC 180","x":74.3,"y":131.7},{"s":"MC 180","x":82.7,"y":135.6},{"s":"MC 180","x":93.2,"y":131.1},{"s":"MC 180","x":94.2,"y":128.3},{"s":"MC 180","x":96.5,"y":136.3},{"s":"MC 180","x":98,"y":134.5},{"s":"MC 180","x":99.1,"y":125},{"s":"MC 180","x":102,"y":134.9},{"s":"MC 180","x":88.5,"y":117.6},{"s":"MC 180","x":91.6,"y":120.4},{"s":"MC 180","x":104.6,"y":138.4},{"s":"MC 180","x":107.3,"y":139.1},{"s":"MC 180","x":108.6,"y":131.1},{"s":"MC 180","x":110.5,"y":138.4},{"s":"MC 180","x":111.7,"y":143},{"s":"MC 180","x":105.3,"y":148.3},{"s":"MC 180","x":109,"y":149.7},{"s":"MC 180","x":113.8,"y":149},{"s":"MC 180","x":108.6,"y":146.2},{"s":"MC 180","x":116.9,"y":146.2},{"s":"MC 180","x":118.7,"y":150.8},{"s":"MC 180","x":120.4,"y":145.2},{"s":"MC 180","x":125.7,"y":147.3},{"s":"MC 180","x":130.5,"y":145.9},{"s":"MC 180","x":115,"y":137},{"s":"MC 180","x":117.6,"y":139},{"s":"MC 180","x":115.7,"y":134.1},{"s":"MC 180","x":122.4,"y":139.1},{"s":"MC 180","x":123.8,"y":137},{"s":"MC 180","x":126,"y":135.6},{"s":"MC 180","x":120.9,"y":133.5},{"s":"MC 180","x":128.3,"y":139.1},{"s":"MC 180","x":55,"y":152.5},{"s":"MC 180","x":55,"y":165},{"s":"MC 180","x":57,"y":167},{"s":"MC 180","x":77,"y":179},{"s":"MC 180","x":82,"y":176.7},{"s":"MC 180","x":87.8,"y":177.4},{"s":"MC 180","x":102,"y":176.4},{"s":"MC 180","x":104.3,"y":175},{"s":"MC 180","x":120,"y":174.3},{"s":"MC 180","x":123.6,"y":180},{"s":"MC 180","x":129,"y":174.3},{"s":"MC 180","x":86,"y":161},{"s":"MC 180","x":90,"y":157},{"s":"MC 180","x":96,"y":162},{"s":"MC 180","x":105,"y":173},{"s":"MC 180","x":107,"y":171},{"s":"MC 180","x":109,"y":166},{"s":"MC 180","x":112,"y":160},{"s":"MC 180","x":118,"y":168},{"s":"MC 180","x":126,"y":163},{"s":"MC 180","x":131,"y":158},{"s":"MC 180","x":134,"y":155},{"s":"MC 180","x":110,"y":162},{"s":"MC 180","x":114,"y":156},{"s":"MC 180","x":100,"y":152},{"s":"MC 180","x":138,"y":148},{"s":"MC 180","x":142,"y":152},
{"s":"MC 180","x":34.6,"y":56.7},{"s":"MC 180","x":35.8,"y":50.1},{"s":"MC 180","x":33.3,"y":45.2},{"s":"MC 180","x":38.7,"y":22.5},{"s":"MC 180","x":41.4,"y":22.5},{"s":"MC 180","x":41.7,"y":15.6},{"s":"MC 180","x":23.2,"y":14.1},{"s":"MC 180","x":29.4,"y":20.1},{"s":"MC 180","x":17.3,"y":8.2},{"s":"MC 180","x":11.4,"y":4.4},{"s":"MC 180","x":47.6,"y":33.2},{"s":"MC 180","x":43.9,"y":35.6},{"s":"MC 180","x":49.9,"y":65.6},{"s":"MC 180","x":56.2,"y":20.1},{"s":"MC 180","x":55.5,"y":14.5},{"s":"MC 180","x":56.5,"y":7.7},{"s":"MC 180","x":61.4,"y":2.8},{"s":"MC 180","x":64.7,"y":12.8},{"s":"MC 180","x":69.1,"y":8.3},{"s":"MC 180","x":70.9,"y":4.9},{"s":"MC 180","x":75.5,"y":2.1},{"s":"MC 180","x":84.3,"y":1.6},{"s":"MC 180","x":63.6,"y":28.6},{"s":"MC 180","x":71.3,"y":26.5},{"s":"MC 180","x":79.4,"y":23.4},{"s":"MC 180","x":75,"y":30.4},{"s":"MC 180","x":77.2,"y":30},{"s":"MC 180","x":67.9,"y":33.8},{"s":"MC 180","x":61.4,"y":33.1},{"s":"MC 180","x":58,"y":35.6},{"s":"MC 180","x":58.7,"y":34.2},{"s":"MC 180","x":60.2,"y":43.6},{"s":"MC 180","x":62.4,"y":41.3},{"s":"MC 180","x":65.1,"y":37.7},{"s":"MC 180","x":66.1,"y":39.2},{"s":"MC 180","x":67.6,"y":42},{"s":"MC 180","x":69.4,"y":41.5},{"s":"MC 180","x":68.4,"y":44.4},{"s":"MC 180","x":72.3,"y":47.6},{"s":"MC 180","x":73.5,"y":47.6},{"s":"MC 180","x":75.3,"y":48.6},{"s":"MC 180","x":78.4,"y":52.3},{"s":"MC 180","x":81.4,"y":45.5},{"s":"MC 180","x":82.1,"y":42.7},{"s":"MC 180","x":78.4,"y":35.9},{"s":"MC 180","x":79,"y":34.2},{"s":"MC 180","x":83.1,"y":35.9},{"s":"MC 180","x":89.1,"y":39.8},{"s":"MC 180","x":92,"y":31.8},{"s":"MC 180","x":95,"y":38.1},{"s":"MC 180","x":96.8,"y":49.7},{"s":"MC 180","x":100.9,"y":31.8},{"s":"MC 180","x":103.4,"y":26.5},{"s":"MC 180","x":92.5,"y":22.9},{"s":"MC 180","x":90.9,"y":14.9},{"s":"MC 180","x":85.8,"y":11.7},{"s":"MC 180","x":95.3,"y":6},{"s":"MC 180","x":98.7,"y":2.5},{"s":"MC 180","x":100.4,"y":4.4},{"s":"MC 180","x":99.7,"y":16.1},{"s":"MC 180","x":111,"y":0.3},{"s":"MC 180","x":109.8,"y":48.6},{"s":"MC 180","x":112.7,"y":38.7},{"s":"MC 180","x":115.7,"y":17.3},{"s":"MC 180","x":119.8,"y":7.7},{"s":"MC 180","x":122.1,"y":33.8},{"s":"MC 180","x":123.5,"y":18},{"s":"MC 180","x":129.3,"y":16.6},{"s":"MC 180","x":102.1,"y":68},{"s":"MC 180","x":106.4,"y":71.8},{"s":"MC 180","x":121.6,"y":72},{"s":"MC 180","x":87.6,"y":69.7},{"s":"MC 180","x":83.9,"y":62},{"s":"MC 180","x":78,"y":58.9},{"s":"MC 180","x":72,"y":62},{"s":"MC 180","x":70.6,"y":63.8},{"s":"MC 180","x":67.9,"y":58.2},{"s":"MC 180","x":65.4,"y":58.9},{"s":"MC 180","x":63.2,"y":55.6},{"s":"MC 180","x":59.5,"y":49},{"s":"MC 180","x":53.6,"y":43.1},{"s":"MC 180","x":52.3,"y":45.4},{"s":"MC 180","x":53.1,"y":39.2},{"s":"MC 180","x":57.6,"y":43},{"s":"MC 180","x":57.7,"y":92.2},{"s":"MC 180","x":57.3,"y":84.2},{"s":"MC 180","x":48.4,"y":77.4},{"s":"MC 180","x":84.9,"y":77.6},{"s":"MC 180","x":125.7,"y":78.9},{"s":"MC 180","x":123,"y":29},{"s":"MC 180","x":140,"y":11},{"s":"MC 180","x":118,"y":6.8}
]},
"mark":{"type":"point","filled":true,"opacity":1,"stroke":"black","strokeWidth":1.7,"size":46},
"encoding":{
"x":{"field":"x","type":"quantitative","scale":{"domain":[0,360],"nice":false,"zero":false},"axis":{"values":[0,30,60,90,120,150,180,210,240,270,300,330,360],"title":"Ellipse orientation (θ) degrees","labelPadding":10,"titlePadding":14}},
"y":{"field":"y","type":"quantitative","scale":{"domain":[0,180],"nice":false,"zero":false},"axis":{"values":[0,30,60,90,120,150,180],"title":"Estimated Theta value (Eθ) degrees","labelPadding":7,"titlePadding":10}},
"shape":{"field":"s","type":"nominal","sort":null,"scale":{"domain":["LS","CE","MO","AN","MC 180"],"range":["circle","triangle-up","square","triangle-up","diamond"]},"legend":{"title":null,"orient":"none","legendX":842,"legendY":142,"encode":{"symbols":{"update":{"stroke":{"value":"black"},"strokeWidth":{"value":1.3}}}}}},
"fill":{"field":"s","type":"nominal","sort":null,"scale":{"domain":["LS","CE","MO","AN","MC 180"],"range":["black","black","black","white","white"]},"legend":{"title":null,"orient":"none","legendX":842,"legendY":142,"encode":{"symbols":{"update":{"stroke":{"value":"black"},"strokeWidth":{"value":1.3}}}}}}
},
"config":{
"view":{"stroke":"black","strokeWidth":1.2},
"axis":{"domainColor":"black","domainWidth":1.5,"tickColor":"black","tickSize":5,"tickWidth":1.2,"labelFont":"Liberation Sans","labelFontSize":17,"labelColor":"black","labelFlush":false,"labelOverlap":false,"titleFont":"Liberation Sans","titleFontSize":17,"titleFontWeight":"bold","titleColor":"black","gridColor":"#a9b0b7","gridWidth":1.2},
"legend":{"strokeColor":"black","fillColor":"white","padding":6,"rowPadding":11,"labelFont":"Liberation Sans","labelFontSize":15,"labelColor":"black","symbolSize":28,"labelOffset":4,"cornerRadius":0}
}
}
